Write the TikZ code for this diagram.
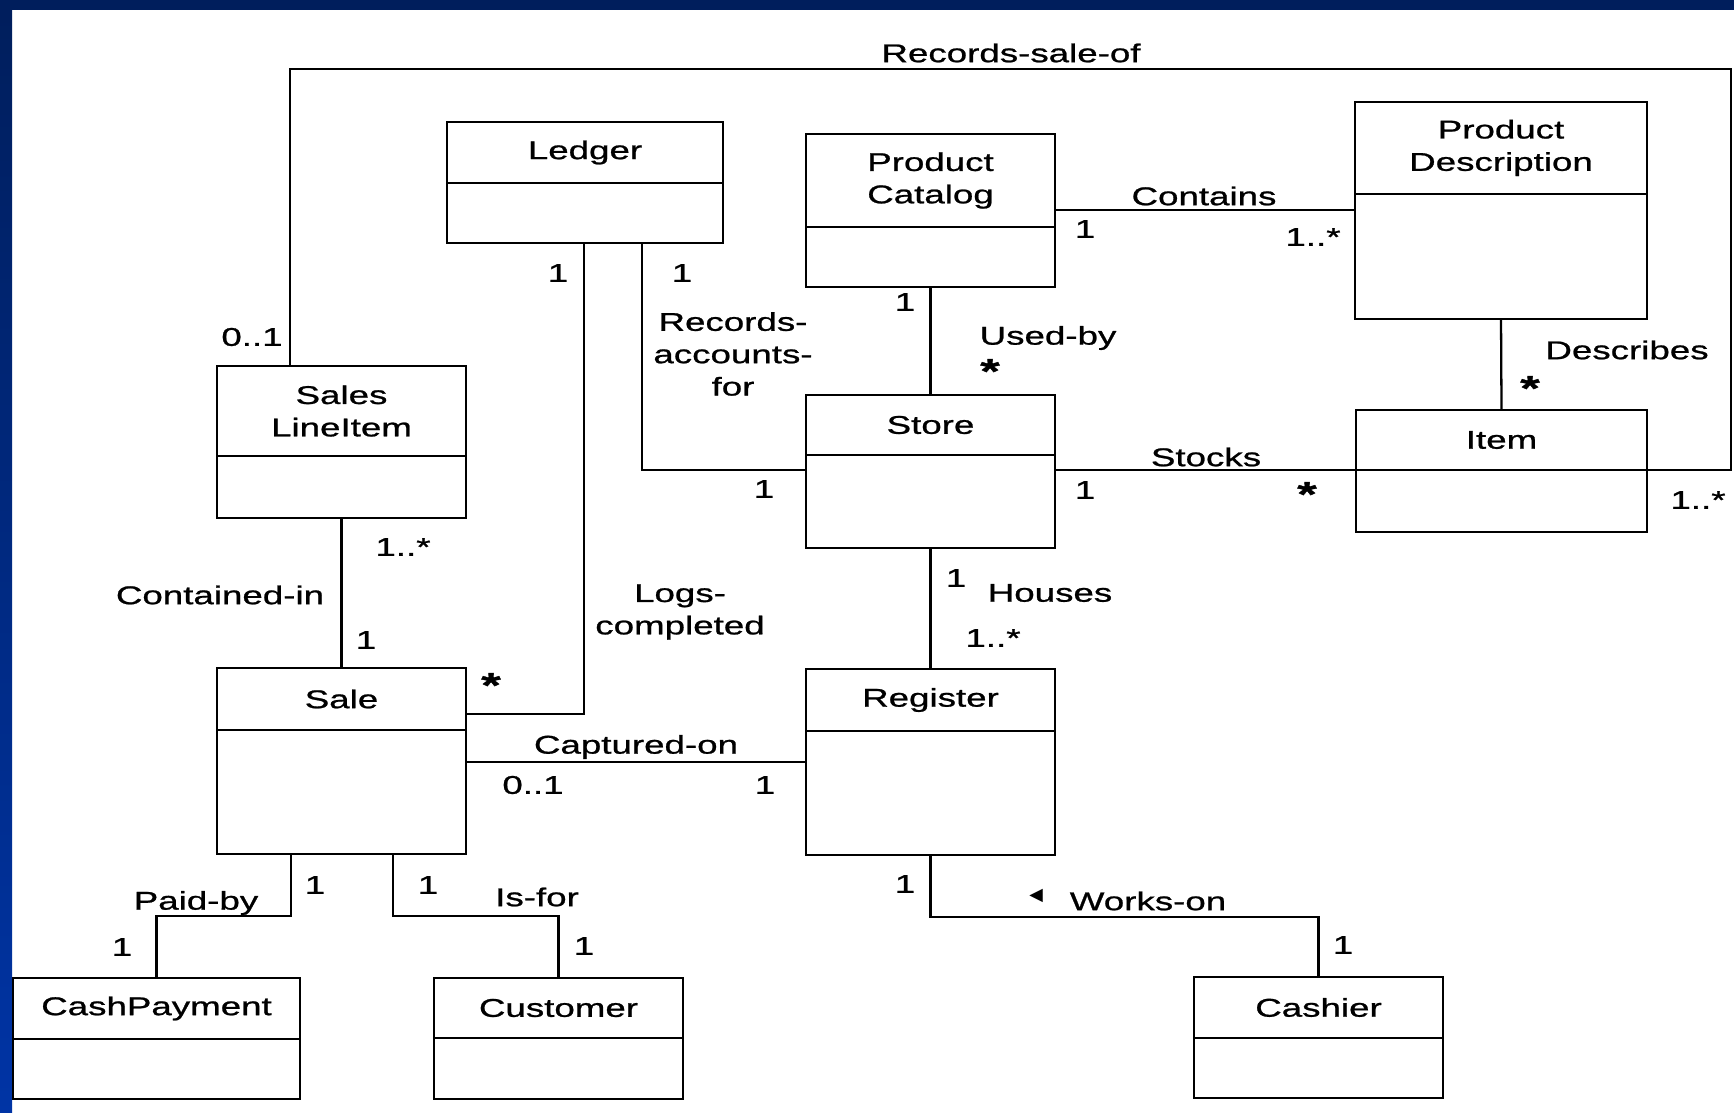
\documentclass[tikz,border=0pt]{standalone}
\usepackage{fontspec}
\setmainfont{Liberation Sans}[FakeStretch=1.43, FakeBold=0.9]
\newfontfamily\symbfont{DejaVu Sans}
\usetikzlibrary{positioning}

\definecolor{slidenavy}{RGB}{0,30,92}
\definecolor{slideblue}{RGB}{0,52,165}

\begin{document}
\begin{tikzpicture}[
        x=0.01cm, y=-0.01cm,
        font=\fontsize{7.3}{9.2}\selectfont,
        line width=0.65pt,
        head/.style={draw, outer sep=0pt, inner sep=1pt, align=center, minimum width=2.49cm, minimum height=0.61cm},
        body/.style={draw, outer sep=0pt, minimum width=2.49cm, minimum height=0.61cm},
        lbl/.style={inner sep=0pt, align=center},
        mstar/.style={inner sep=0pt, font=\bfseries\fontsize{10}{10}\selectfont, yshift=-1.2pt},
    ]
        % Slide frame
        \useasboundingbox (0,0) rectangle (1734,1113);
        \fill[white] (0,0) rectangle (1734,1113);
        \shade[top color=slidenavy, bottom color=slideblue] (0,0) rectangle (12,1113);
        \fill[slidenavy] (0,0) rectangle (1734,10);

        % Classes, top row
        \node[head, minimum width=2.76cm] (ledgerH) at (585,152.5) {Ledger};
        \node[body, minimum width=2.76cm, minimum height=0.60cm, below=0pt of ledgerH] (ledgerB) {};
        \node[head, minimum height=0.93cm] (catalogH) at (930.5,180.5) {Product\\Catalog};
        \node[body, minimum height=0.60cm, below=0pt of catalogH] (catalogB) {};
        \node[head, minimum width=2.92cm, minimum height=0.92cm] (pdH) at (1501,148) {Product\\Description};
        \node[body, minimum width=2.92cm, minimum height=1.25cm, below=0pt of pdH] (pdB) {};

        % Classes, middle rows
        \node[head, minimum height=0.90cm] (slineH) at (341.5,411) {Sales\\LineItem};
        \node[body, minimum height=0.62cm, below=0pt of slineH] (slineB) {};
        \node[head, minimum height=0.60cm] (storeH) at (930.5,425) {Store};
        \node[body, minimum height=0.93cm, below=0pt of storeH] (storeB) {};
        \node[head, minimum width=2.91cm, minimum height=0.60cm] (itemH) at (1501.5,440) {Item};
        \node[body, minimum width=2.91cm, minimum height=0.62cm, below=0pt of itemH] (itemB) {};
        \node[head, minimum height=0.62cm] (saleH) at (341.5,699) {Sale};
        \node[body, minimum height=1.24cm, below=0pt of saleH] (saleB) {};
        \node[head, minimum height=0.62cm] (registerH) at (930.5,700) {Register};
        \node[body, minimum height=1.24cm, below=0pt of registerH] (registerB) {};

        % Classes, bottom row
        \node[head, minimum width=2.87cm] (cashH) at (156.5,1008.5) {CashPayment};
        \node[body, minimum width=2.87cm, minimum height=0.60cm, below=0pt of cashH] (cashB) {};
        \node[head, minimum height=0.60cm] (custH) at (558.5,1008) {Customer};
        \node[body, below=0pt of custH] (custB) {};
        \node[head] (cashierH) at (1318.5,1007.5) {Cashier};
        \node[body, minimum height=0.60cm, below=0pt of cashierH] (cashierB) {};

        % Associations
        \draw (slineH.north -| 290,0) |- (1731,69) |- (itemH.south east);
        \draw (catalogH.east |- 0,210) -- (pdB.west |- 0,210);
        \draw (catalogB.south) -- (storeH.north);
        \draw (pdB.south) -- (itemH.north);
        \draw (storeB.east |- itemH.south) -- (itemH.south west);
        \draw (ledgerB.south -| 642,0) |- (storeB.west |- itemH.south);
        \draw (ledgerB.south -| 584,0) |- (saleH.east |- 0,714);
        \draw (slineB.south) -- (saleH.north);
        \draw (saleB.east |- 0,762) -- (registerB.west |- 0,762);
        \draw (storeB.south) -- (registerH.north);
        \draw (saleB.south -| 291,0) -- ++(0,62) -| (cashH.north);
        \draw (saleB.south -| 393,0) -- ++(0,62) -| (custH.north);
        \draw (registerB.south) -- ++(0,62) -| (cashierH.north);

        % Names and multiplicities
        \node[lbl] (rso) at (1011,53) {Records-sale-of};
        \node[lbl] (rsoA) at (252,337) {0..1};
        \node[lbl] (rsoB) at (1698,500) {1..*};
        \node[lbl] (cont) at (1204,196) {Contains};
        \node[lbl] (contA) at (1085,229) {1};
        \node[lbl] (contB) at (1313,237) {1..*};
        \node[lbl] (used) at (1048,338) {Used-by};
        \node[lbl] (usedA) at (905,302) {1};
        \node[mstar] (usedB) at (990,367) {*};
        \node[lbl] (desc) at (1627,350) {Describes};
        \node[mstar] (descB) at (1530,384) {*};
        \node[lbl] (stock) at (1206,457) {Stocks};
        \node[lbl] (stockA) at (1085,490) {1};
        \node[mstar] (stockB) at (1307,490) {*};
        \node[lbl] (racc) at (733,354) {Records-\\accounts-\\for};
        \node[lbl] (raccA) at (682,273) {1};
        \node[lbl] (raccB) at (764,489) {1};
        \node[lbl] (logs) at (680,612) {Logs-\\completed};
        \node[lbl] (logsA) at (558,273) {1};
        \node[mstar] (logsB) at (491,681) {*};
        \node[lbl] (cin) at (220,595) {Contained-in};
        \node[lbl] (cinA) at (403,547) {1..*};
        \node[lbl] (cinB) at (366,640) {1};
        \node[lbl] (capt) at (636,747) {Captured-on};
        \node[lbl] (captA) at (533,785) {0..1};
        \node[lbl] (captB) at (765,785) {1};
        \node[lbl] (hous) at (1050,593) {Houses};
        \node[lbl] (housA) at (956,578) {1};
        \node[lbl] (housB) at (993,638) {1..*};
        \node[lbl] (paid) at (196,903) {Paid-by};
        \node[lbl] (paidA) at (315,885) {1};
        \node[lbl] (paidB) at (122,947) {1};
        \node[lbl] (isfor) at (537,897) {Is-for};
        \node[lbl] (isforA) at (428,885) {1};
        \node[lbl] (isforB) at (584,946) {1};
        \node[lbl] (works) at (1148,901) {Works-on};
        \node[lbl, font=\symbfont\fontsize{5}{5}\selectfont] (worksDir) at (1036,896) {◀};
        \node[lbl] (worksA) at (905,884) {1};
        \node[lbl] (worksB) at (1343,945) {1};
    \end{tikzpicture}
\end{document}
